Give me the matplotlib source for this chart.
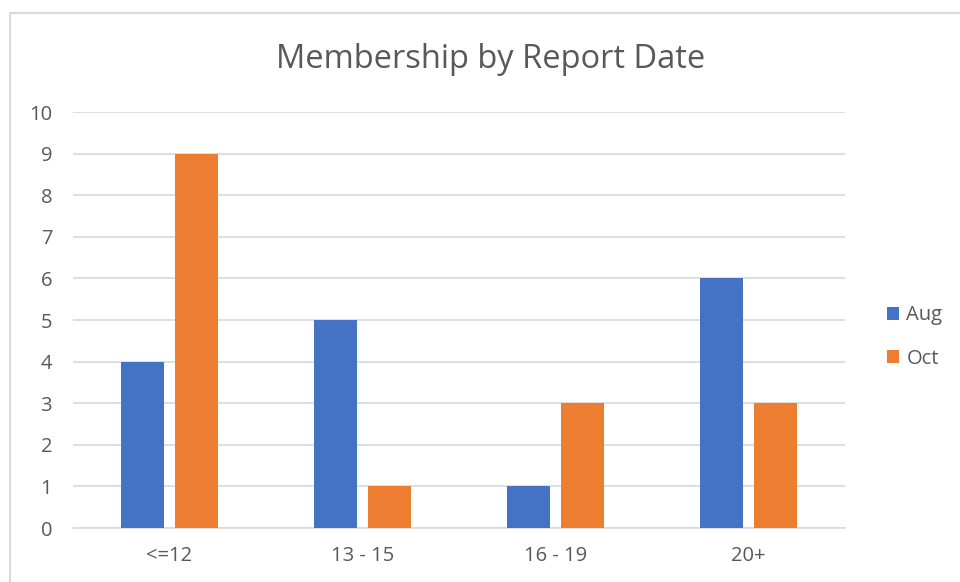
import matplotlib
matplotlib.use("Agg")
import matplotlib.pyplot as plt
import numpy as np
from matplotlib.patches import Rectangle

categories = ["<=12", "13 - 15", "16 - 19", "20+"]
aug = [4, 5, 1, 6]
oct_ = [9, 1, 3, 3]
yticks = list(range(0, 11))

plt.rcParams['font.family'] = ['Open Sans', 'DejaVu Sans']
txt = '#595959'

fig = plt.figure(figsize=(9.6, 5.82), dpi=100)
fig.patch.set_facecolor('white')
# chart border
fig.patches.append(Rectangle((10/960, -0.1), 1.2, 1 - 13/582 + 0.1, transform=fig.transFigure,
                             fill=False, edgecolor='#D9D9D9', linewidth=1.5, zorder=0))

ax = fig.add_axes([73/960, 1 - 528/582, (845 - 73)/960, (528 - 112)/582])
x = np.arange(len(categories))
w = 0.223
off = 0.142
ax.bar(x - off, aug, w, color='#4472C4', label='Aug', zorder=3)
ax.bar(x + off, oct_, w, color='#ED7D31', label='Oct', zorder=3)

ax.set_xlim(-0.5, len(categories) - 0.5)
ax.set_ylim(0, 10)
ax.set_yticks(yticks)
ax.set_xticks(x)
ax.set_xticklabels(categories)
ax.yaxis.grid(True, color='#D9D9D9', linewidth=1.2, zorder=0)
ax.set_axisbelow(True)
for s in ['top', 'right', 'left']:
    ax.spines[s].set_visible(False)
ax.spines['bottom'].set_color('#D9D9D9')
ax.spines['bottom'].set_linewidth(1.2)
ax.tick_params(axis='both', length=0, colors=txt, labelsize=14.5)
ax.tick_params(axis='y', pad=15)
ax.tick_params(axis='x', pad=13)

fig.text(491/960, 1 - 59/582, "Membership by Report Date", ha='center', va='center',
         fontsize=23.5, color=txt)

leg = fig.legend(loc='center left', bbox_to_anchor=(869/960, 1 - 337/582), frameon=False,
                 fontsize=14.5, labelcolor=txt, handlelength=0.6, handleheight=0.6,
                 handletextpad=0.35, labelspacing=1.15)

fig.savefig("out.png", dpi=100, facecolor='white')
